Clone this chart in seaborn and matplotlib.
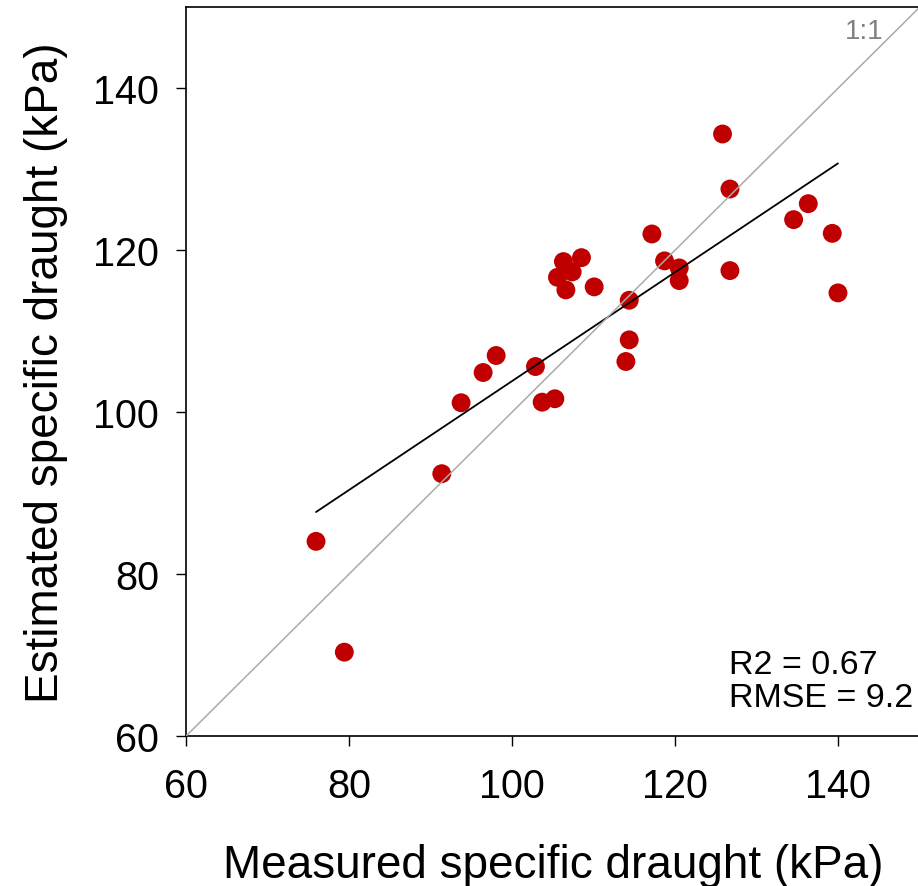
import matplotlib
matplotlib.use('Agg')
import matplotlib.pyplot as plt
import seaborn as sns
import pandas as pd

# Valores
medido = [75.95, 79.42, 91.37, 93.74, 96.44, 98.04, 102.86, 103.68, 105.24, 106.29,
          108.50, 105.56, 107.36, 106.59, 110.06, 114.36, 114.36, 113.95, 125.80, 126.71,
          117.14, 118.69, 120.49, 120.49, 126.71, 134.52, 136.32, 139.26, 139.96]
estimado = [84.04, 70.36, 92.39, 101.15, 104.88, 106.98, 105.62, 101.22, 101.64, 118.57,
            119.06, 116.63, 117.30, 115.08, 115.45, 113.80, 108.91, 106.24, 134.32, 127.53,
            121.98, 118.66, 117.79, 116.23, 117.46, 123.75, 125.72, 122.06, 114.71]
linha_11 = [60, 150]
ticks = [60, 80, 100, 120, 140]
stats_txt = "R2 = 0.67\nRMSE = 9.2"

df = pd.DataFrame({'medido': medido, 'estimado': estimado})

sns.set_style('white')
plt.rcParams['font.family'] = ['Liberation Sans', 'DejaVu Sans']
plt.rcParams['text.color'] = 'black'
plt.rcParams['axes.labelcolor'] = 'black'
plt.rcParams['xtick.color'] = 'black'
plt.rcParams['ytick.color'] = 'black'

fig = plt.figure(figsize=(9.18, 8.87), dpi=100)
ax = fig.add_axes([0.2026, 0.169, 0.7994, 0.822])

# Pontos + regressao linear
sns.regplot(data=df, x='medido', y='estimado', ax=ax, ci=None,
            scatter_kws={'color': '#C00000', 's': 185, 'edgecolor': 'none', 'alpha': 1},
            line_kws={'color': 'black', 'linewidth': 1.3})

# Linha 1:1
ax.plot(linha_11, linha_11, color='#AAAAAA', linewidth=1.1, zorder=5)
ax.text(145.5, 146.2, '1:1', color='#808080', fontsize=20, ha='right', va='baseline')

ax.text(126.6, 63.7, stats_txt, fontsize=24.5, ha='left', va='baseline', linespacing=1.1)

ax.set_xlim(60, 150)
ax.set_ylim(60, 150)
ax.set_xticks(ticks)
ax.set_yticks(ticks)
ax.tick_params(axis='both', direction='out', length=7.5, width=1, color='black',
               labelsize=28.5, bottom=True, left=True)
ax.tick_params(axis='x', pad=15)
ax.tick_params(axis='y', pad=12)
for s in ['left', 'bottom', 'top']:
    ax.spines[s].set_color('black')
    ax.spines[s].set_linewidth(1.2)
ax.spines['right'].set_visible(False)

ax.set_xlabel('Measured specific draught (kPa)', fontsize=33, labelpad=27)
ax.set_ylabel('Estimated specific draught (kPa)', fontsize=33, labelpad=18)

fig.savefig('out.png', dpi=100)
